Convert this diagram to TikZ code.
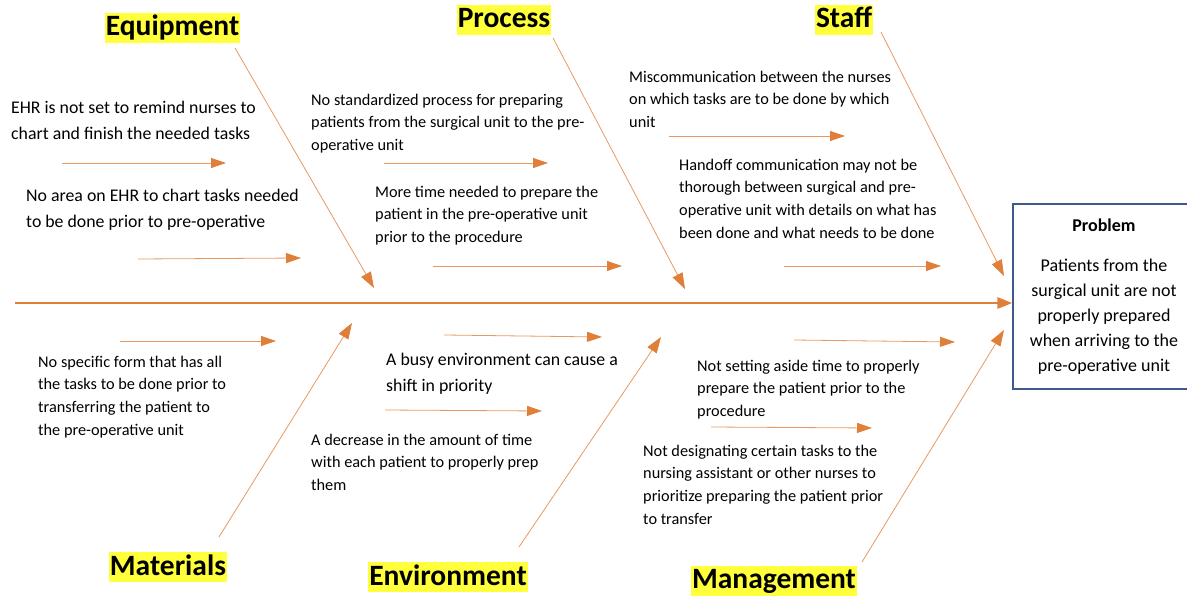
\documentclass[tikz,border=0pt]{standalone}
\usepackage{fontspec}
\setmainfont{Carlito}
\usepackage{xcolor}
\usepackage{tikz}
\usetikzlibrary{positioning, arrows.meta, calc}
\definecolor{fishorange}{HTML}{E07F3A}
\definecolor{hiyellow}{HTML}{FFFF3C}
\definecolor{probblue}{HTML}{3E5A8C}

\begin{document}
\begin{tikzpicture}[x=1pt, y=-1pt,
    spine/.style={draw=fishorange, line width=2.8pt, -{Triangle[length=15pt,width=11pt]}},
    bone/.style={draw=fishorange!80, line width=0.8pt, -{Triangle[length=16pt,width=11pt,color=fishorange]}},
    twig/.style={draw=fishorange!80, line width=0.8pt, -{Triangle[length=15pt,width=10pt,color=fishorange]}},
    category/.style={fill=hiyellow, font=\fontsize{29.5}{33}\selectfont\bfseries,
      text height=21pt, text depth=5pt, inner xsep=1pt, inner ysep=2pt},
    cause/.style={anchor=north west, inner sep=0pt, align=left, font=\fontsize{16.3}{22.7}\selectfont},
    bigcause/.style={cause, font=\fontsize{17.8}{25.5}\selectfont}]
  \useasboundingbox (0,0) rectangle (1187,599);

  % problem box and spine
  \node[draw=probblue, line width=1.2pt, minimum width=182pt, minimum height=185pt,
        align=center, font=\fontsize{18}{25}\selectfont] (problem) at (1104,296.5)
    {\textbf{Problem}\\[15pt]
     Patients from the\\surgical unit are not\\properly prepared\\when arriving to the\\pre-operative unit};
  \coordinate (tail) at (15,303);
  \draw[spine] (tail) -- (tail -| problem.west);

  % categories
  \node[category] (equip) at (172.5,28) {Equipment};
  \node[category] (process) at (504,20) {Process};
  \node[category] (staff) at (844,20) {Staff};
  \node[category] (mater) at (168,567) {Materials};
  \node[category] (envir) at (448,577) {Environment};
  \node[category] (manage) at (774,580.5) {Management};

  % main bones
  \foreach \n/\xa/\ya/\xb/\yb in {equip/235/48/374/288, process/553/38/685/289,
      staff/881/32/1004/276, mater/219/537/352/323, envir/519/547/661/337,
      manage/862/562/1004/330}{
    \coordinate (\n-a) at (\xa,\ya);
    \coordinate (\n-b) at (\xb,\yb);
    \draw[bone] (\n-a) -- (\n-b);
  }

  % small cause arrows
  \foreach \n/\xa/\ya/\xb/\yb in {1/62/163/226/163, 2/138/259/301/258, 3/384/163/548/163,
      4/433/266/622/266, 5/669/136/845/136, 6/784/266/941/266, 7/120/341/276/341,
      8/444/335/602/337, 9/385/410/542/411, 10/794/340/955/342, 11/711/427/872/428}{
    \coordinate (t\n-a) at (\xa,\ya);
    \coordinate (t\n-b) at (\xb,\yb);
    \draw[twig] (t\n-a) -- (t\n-b);
  }

  % causes
  \node[bigcause] (ehr) at (11,101) {EHR is not set to remind nurses to\\chart and finish the needed tasks};
  \node[bigcause] (noarea) at (26,189) {No area on EHR to chart tasks needed\\to be done prior to pre-operative};
  \node[cause] (nostd) at (311,93.5) {No standardized process for preparing\\patients from the surgical unit to the pre-\\operative unit};
  \node[cause] (moretime) at (375,185.5) {More time needed to prepare the\\patient in the pre-operative unit\\prior to the procedure};
  \node[cause] (miscomm) at (629,70.5) {Miscommunication between the nurses\\on which tasks are to be done by which\\unit};
  \node[cause] (handoff) at (679,158.5) {Handoff communication may not be\\thorough between surgical and pre-\\operative unit with details on what has\\been done and what needs to be done};
  \node[cause] (noform) at (38,355.5) {No specific form that has all\\the tasks to be done prior to\\transferring the patient to\\the pre-operative unit};
  \node[bigcause] (busy) at (386,353) {A busy environment can cause a\\shift in priority};
  \node[cause] (decrease) at (311,433.5) {A decrease in the amount of time\\with each patient to properly prep\\them};
  \node[cause] (aside) at (697,359.5) {Not setting aside time to properly\\prepare the patient prior to the\\procedure};
  \node[cause] (designate) at (643,444.5) {Not designating certain tasks to the\\nursing assistant or other nurses to\\prioritize preparing the patient prior\\to transfer};
\end{tikzpicture}
\end{document}
